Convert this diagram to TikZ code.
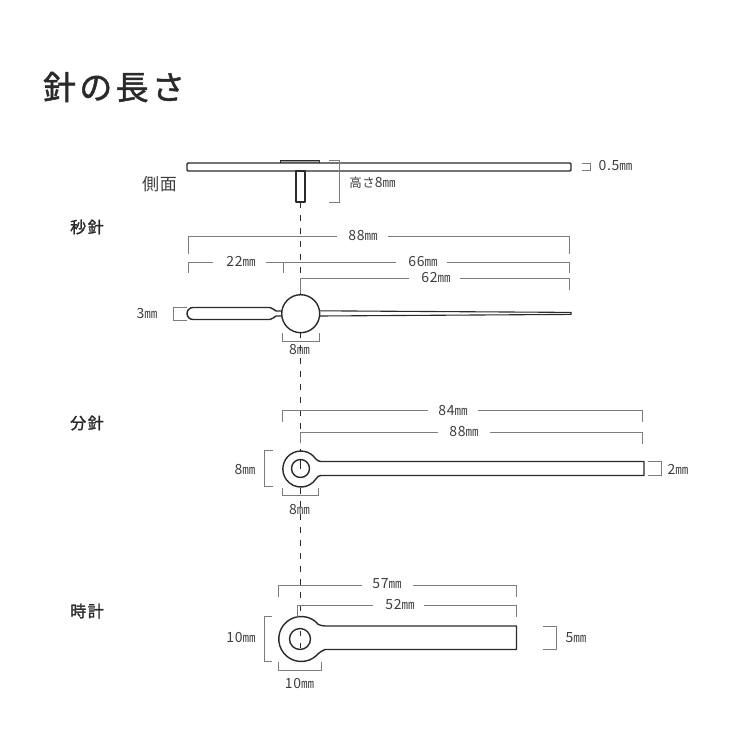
\documentclass[tikz,border=0pt]{standalone}
\usepackage{fontspec}
\setmainfont{Noto Sans CJK JP}
\newfontfamily\dimfont[LetterSpace=5]{Noto Sans CJK JP}
\newfontfamily\titlefont[LetterSpace=10,FakeBold=1.5]{Noto Sans CJK JP}
\newfontfamily\sidefont[LetterSpace=4]{Noto Sans CJK JP}
\newfontfamily\headfont[LetterSpace=10,FakeBold=1.6]{Noto Sans CJK JP}
\newcommand{\mmu}{{\fontsize{13}{13}\selectfont ㎜}}
\definecolor{ink}{HTML}{2A2A2A}
\definecolor{txt}{HTML}{3E3E3E}
\definecolor{dimc}{HTML}{7C7C7C}
\tikzset{
  x=1pt,y=1pt,
  hand/.style={draw=ink,line width=1.4pt,fill=white,line join=round},
  needle/.style={draw=ink,line width=1.1pt,fill=white,line join=miter},
  dimline/.style={draw=dimc,line width=1pt},
  centerline/.style={draw=ink,line width=1.3pt,dash pattern=on 6pt off 7pt},
  holeline/.style={draw=ink,line width=1pt},
  dimtext/.style={text=txt,font=\dimfont\fontsize{14}{14}\selectfont,inner sep=0pt,anchor=center},
  sidetext/.style={text=txt,font=\sidefont\fontsize{17}{17}\selectfont,inner sep=0pt,anchor=center},
  headtext/.style={text=ink,font=\headfont\fontsize{16}{16}\selectfont,inner sep=0pt,anchor=center},
  titletext/.style={text=ink,font=\titlefont\fontsize{33}{33}\selectfont,inner sep=0pt,anchor=center},
}
\begin{document}
\begin{tikzpicture}
\useasboundingbox (0,0) rectangle (740,-740);
% centre line
\coordinate (clTop) at (300.5,-202);
\coordinate (clBot) at (300.5,-660);
\draw[centerline] (clTop) -- (clBot);
% side view
\draw[hand,fill=gray!70,line width=.8pt] (280,-160) rectangle (319,-163);
\draw[hand,rounded corners=1.2pt] (187,-163) rectangle (571,-171);
\draw[hand] (296,-171) rectangle (305,-202);
\draw[dimline] (329,-160) -- (339,-160) -- (339,-202) -- (329,-202);
\draw[dimline] (582,-163.5) -- (590,-163.5) -- (590,-170.5) -- (582,-170.5);
% second hand
\draw[hand] (276,-311) .. controls (274,-311) and (273.5,-307.5) .. (270,-307.5)
  -- (193,-307.5) arc[start angle=90,end angle=270,radius=6] -- (270,-319.5)
  .. controls (273.5,-319.5) and (274,-316) .. (276,-316) -- (283,-316) -- (283,-311) -- cycle;
\draw[needle] (318.8,-310.8) -- (571,-312.4) -- (571,-314.4) -- (318.8,-316) -- cycle;
\draw[hand] (300.7,-313.7) circle[radius=19];
% minute hand
\draw[hand] (644,-461.5) -- (321,-461.5) .. controls (318.5,-461.5) and (317.5,-460.5) .. (315.6,-458.7)
  arc[start angle=35,end angle=325,radius=18] .. controls (317.5,-476.5) and (318.5,-475.5) .. (321,-475.5) -- (644,-475.5) -- cycle;
\draw[hand] (300.5,-468.5) circle[radius=9];
\draw[holeline] (300.5,-460) -- (300.5,-469);
% hour hand
\draw[hand] (516.5,-626) -- (325,-626) .. controls (322,-626) and (320.5,-625) .. (318.5,-624.5)
  arc[start angle=40,end angle=320,radius=22.5] .. controls (320.5,-653) and (322,-649.5) .. (325,-649.5) -- (516.5,-649.5) -- cycle;
\draw[hand] (300,-639) circle[radius=10.5];
\draw[holeline] (300.5,-631) -- (300.5,-635.5) (300.5,-643) -- (300.5,-648);
% dimensions: second hand
\draw[dimline] (188,-254) -- (188,-236) -- (337,-236);
\draw[dimline] (388,-236) -- (569.5,-236) -- (569.5,-254);
\draw[dimline] (188,-272.7) -- (188,-262.3) -- (213,-262.3);
\draw[dimline] (266,-262.3) -- (396,-262.3);
\draw[dimline] (283,-262.3) -- (283,-272.7);
\draw[dimline] (447,-262.3) -- (569.5,-262.3) -- (569.5,-272.7);
\draw[dimline] (300,-293) -- (300,-278.3) -- (409,-278.3);
\draw[dimline] (460,-278.3) -- (569.5,-278.3) -- (569.5,-290);
\draw[dimline] (187,-307.7) -- (173,-307.7) -- (173,-320) -- (187,-320);
\draw[dimline] (282,-333) -- (282,-341) -- (319.5,-341) -- (319.5,-333);
% dimensions: minute hand
\draw[dimline] (282.3,-422) -- (282.3,-410.7) -- (428,-410.7);
\draw[dimline] (478,-410.7) -- (642.7,-410.7) -- (642.7,-422);
\draw[dimline] (300,-443) -- (300,-432.7) -- (438,-432.7);
\draw[dimline] (490,-432.7) -- (642.7,-432.7) -- (642.7,-444);
\draw[dimline] (648,-461.7) -- (661.7,-461.7) -- (661.7,-475.3) -- (648,-475.3);
\draw[dimline] (272.7,-450) -- (264.3,-450) -- (264.3,-486) -- (272.7,-486);
\draw[dimline] (282.3,-488) -- (282.3,-495.7) -- (318.7,-495.7) -- (318.7,-488);
% dimensions: hour hand
\draw[dimline] (278.3,-596.7) -- (278.3,-585) -- (361.7,-585);
\draw[dimline] (413,-585) -- (516.7,-585) -- (516.7,-596.7);
\draw[dimline] (297.7,-616.7) -- (297.7,-605) -- (373,-605);
\draw[dimline] (424,-605) -- (516.7,-605) -- (516.7,-616.7);
\draw[dimline] (271.7,-616.7) -- (264,-616.7) -- (264,-661) -- (271.7,-661);
\draw[dimline] (278.3,-662.3) -- (278.3,-670) -- (321,-670) -- (321,-662.3);
\draw[dimline] (543.3,-626) -- (556,-626) -- (556,-649.5) -- (543.3,-649.5);
% text
\node[titletext] (title) at (114,-87) {針の長さ};
\node[sidetext] (side) at (159.5,-184) {側面};
\node[headtext] (sec) at (87,-227) {秒針};
\node[headtext] (min) at (87,-423) {分針};
\node[headtext] (hour) at (87,-611) {時計};
\node[dimtext] (t05) at (615.5,-166) {0.5\mmu};
\node[dimtext] (th) at (372.5,-183) {{\fontsize{12.5}{12.5}\selectfont 高さ}8\mmu};
\node[dimtext] (t88a) at (363,-235.5) {88\mmu};
\node[dimtext] (t22) at (241,-261.5) {22\mmu};
\node[dimtext] (t66) at (423,-261.5) {66\mmu};
\node[dimtext] (t62) at (436,-277.5) {62\mmu};
\node[dimtext] (t3) at (147,-313.5) {3\mmu};
\node[dimtext] (t8a) at (299.5,-349.5) {8\mmu};
\node[dimtext] (t84) at (453,-410.5) {84\mmu};
\node[dimtext] (t88b) at (464,-431.5) {88\mmu};
\node[dimtext] (t2) at (678,-469.5) {2\mmu};
\node[dimtext] (t8b) at (245,-470) {8\mmu};
\node[dimtext] (t8c) at (299.5,-510) {8\mmu};
\node[dimtext] (t57) at (387,-584) {57\mmu};
\node[dimtext] (t52) at (400,-604.5) {52\mmu};
\node[dimtext] (t10a) at (241,-637.5) {10\mmu};
\node[dimtext] (t10b) at (299.5,-683) {10\mmu};
\node[dimtext] (t5) at (576,-638) {5\mmu};
\end{tikzpicture}
\end{document}
